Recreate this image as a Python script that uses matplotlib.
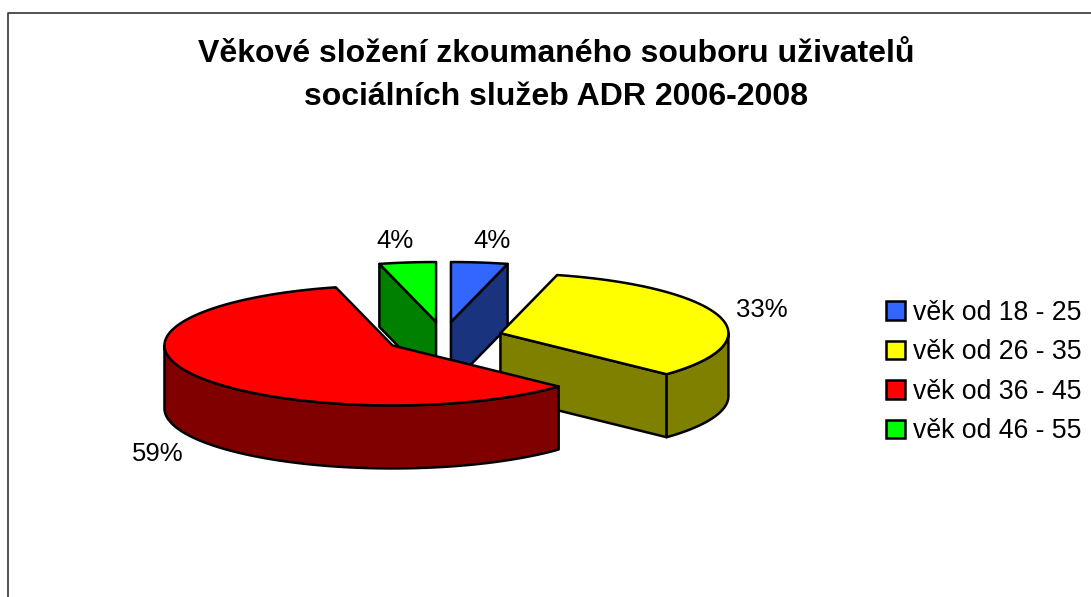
import numpy as np
import matplotlib
matplotlib.use('Agg')
import matplotlib.pyplot as plt
from matplotlib.patches import Polygon, Patch

# data
labels = ['věk od 18 - 25', 'věk od 26 - 35', 'věk od 36 - 45', 'věk od 46 - 55']
shares = [4, 33, 59, 4]
pct_labels = ['4%', '33%', '59%', '4%']
top_colors = ['#3366FF', '#FFFF00', '#FF0000', '#00FF00']
side_colors = ['#1A337F', '#808000', '#800000', '#008000']
title_lines = ['Věkové složení zkoumaného souboru uživatelů',
               'sociálních služeb ADR 2006-2008']

# layout of the 3d pie (pixels)
W, H = 1091, 597
cx, cy = 443.5, 337.5
rx, ry, depth = 228, 60, 63
explode = 0.26

plt.rcParams['font.family'] = ['Liberation Sans', 'DejaVu Sans']

fig = plt.figure(figsize=(W / 100, H / 100), dpi=100)
ax = fig.add_axes([0, 0, 1, 1])
ax.set_xlim(0, W)
ax.set_ylim(H, 0)
ax.axis('off')

fracs = np.array(shares, dtype=float) / sum(shares)
ends = np.pi / 2 - 2 * np.pi * np.cumsum(fracs)
starts = ends + 2 * np.pi * fracs


def rim(x0, y0, t, dz=0.0):
    return x0 + rx * np.cos(t), y0 - ry * np.sin(t) + dz


def poly(xs, ys, color):
    ax.add_patch(Polygon(np.column_stack([xs, ys]), closed=True, facecolor=color,
                         edgecolor='black', lw=1.8, joinstyle='round'))


mids = (ends + starts) / 2
order = np.argsort(-np.sin(mids))  # back slices first

for i in order:
    lo, hi, m = ends[i], starts[i], mids[i]
    ox = cx + explode * rx * np.cos(m)
    oy = cy - explode * ry * np.sin(m)

    # radial cut faces
    if np.cos(lo) > 1e-6:
        x1, y1 = rim(ox, oy, lo)
        poly([ox, x1, x1, ox], [oy, y1, y1 + depth, oy + depth], side_colors[i])
    if np.cos(hi) < -1e-6:
        x1, y1 = rim(ox, oy, hi)
        poly([ox, x1, x1, ox], [oy, y1, y1 + depth, oy + depth], side_colors[i])

    # outer curved side (front half only)
    t = np.linspace(lo, hi, 600)
    front = np.sin(t) <= 0
    if front.any():
        idx = np.where(front)[0]
        splits = np.where(np.diff(idx) > 1)[0] + 1
        for seg in np.split(idx, splits):
            ts = t[seg]
            xs, ys = rim(ox, oy, ts)
            poly(np.concatenate([xs, xs[::-1]]),
                 np.concatenate([ys, ys[::-1] + depth]), side_colors[i])

    # top face
    xs, ys = rim(ox, oy, t)
    poly(np.concatenate([[ox], xs]), np.concatenate([[oy], ys]), top_colors[i])

    # percentage label
    is_front = np.sin(m) < 0
    lx, ly = rim(ox, oy, m, depth if is_front else 0.0)
    lx += 36 * np.cos(m) + 8 * np.sign(np.cos(m))
    ly -= 22 * np.sin(m)
    if is_front:
        ly += 4
    ax.text(lx, ly, pct_labels[i], fontsize=18.5, ha='center', va='center')

# title
ax.text(556, 62, title_lines[0], fontsize=23, fontweight='bold', ha='center', va='baseline')
ax.text(556, 105, title_lines[1], fontsize=23, fontweight='bold', ha='center', va='baseline')

# chart frame
ax.plot([8, 8, W + 5], [H + 5, 12.5, 12.5], color='#333333', lw=1.2, clip_on=False)

# legend
handles = [Patch(facecolor=c, edgecolor='black', lw=1.8) for c in top_colors]
fig.legend(handles, labels, loc='center left', bbox_to_anchor=(886 / W, 1 - 372 / H),
           frameon=False, fontsize=19.2, handlelength=0.7, handleheight=0.7,
           handletextpad=0.3, labelspacing=0.51, borderpad=0, borderaxespad=0)

fig.savefig('out.png', dpi=100)
